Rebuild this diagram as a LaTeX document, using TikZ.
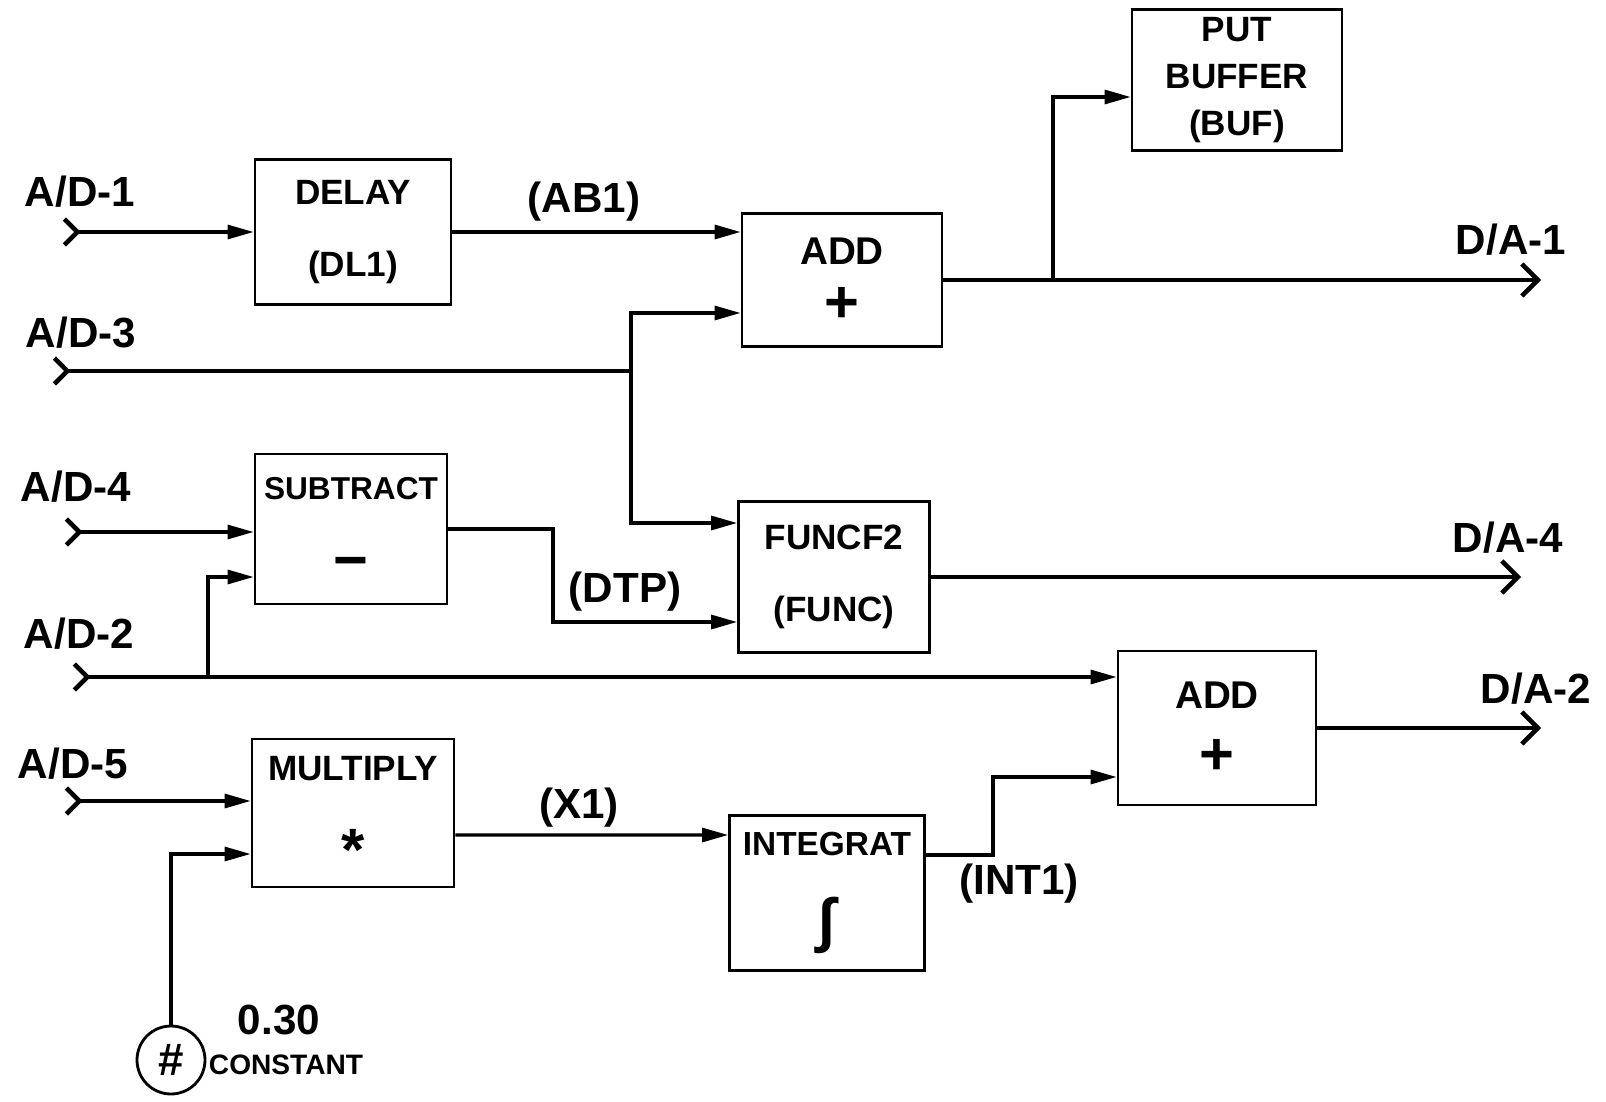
\documentclass[tikz,border=0pt]{standalone}
\usepackage{fontspec}
\setmainfont{Liberation Sans}
\usetikzlibrary{arrows.meta}
\newcommand{\opsym}[1]{{\fontsize{17}{17}\selectfont #1}}

\begin{document}
\begin{tikzpicture}[
  x=0.1mm, y=-0.1mm,
  blk/.style={draw,line width=0.8pt,font=\fontsize{10}{12}\selectfont\bfseries,align=center,inner sep=0pt},
  wire/.style={line width=0.9pt},
  lbl/.style={font=\fontsize{12}{14}\selectfont\bfseries,inner sep=0pt},
  small/.style={font=\fontsize{8}{10}\selectfont\bfseries,inner sep=0pt},
  tin/.tip={Triangle[length=2.6mm,width=1.4mm]},
  tsrc/.tip={Straight Barb[reversed,length=1.3mm,width=2.6mm,line width=1.3pt]},
  tout/.tip={Straight Barb[length=1.6mm,width=3.2mm,line width=1.3pt]},
]
\useasboundingbox (0,0) rectangle (1606,1102);

% blocks
\node[blk,minimum width=19.6mm,minimum height=14.5mm] (dly)  at (353,232)  {DELAY\\[3mm](DL1)};
\node[blk,minimum width=20mm,minimum height=13.3mm,font=\fontsize{11}{13}\selectfont\bfseries] (add1) at (842,280) {ADD\\[1.2mm]\opsym{+}};
\node[blk,minimum width=21mm,minimum height=14.1mm] (buf)  at (1237,80)  {PUT\\[0.5mm]BUFFER\\[0.5mm](BUF)};
\node[blk,minimum width=19.2mm,minimum height=15mm,font=\fontsize{9}{11}\selectfont\bfseries] (sub) at (351,529) {SUBTRACT\\[4.3mm]\opsym{−}};
\node[blk,minimum width=19.1mm,minimum height=15.1mm] (fnc) at (834,577)  {FUNCF2\\[3mm](FUNC)};
\node[blk,minimum width=19.8mm,minimum height=15.4mm,font=\fontsize{11}{13}\selectfont\bfseries] (add2) at (1217,728) {ADD\\[2mm]\opsym{+}};
\node[blk,minimum width=20.2mm,minimum height=14.8mm] (mul)  at (353,813)  {MULTIPLY\\[4.8mm]\opsym{*}};
\node[blk,minimum width=19.5mm,minimum height=15.5mm,font=\fontsize{9.5}{11.5}\selectfont\bfseries] (int) at (827,893) {INTEGRAT\\[3.7mm]\opsym{∫}};
\node[draw,circle,line width=0.8pt,minimum size=6.8mm,inner sep=0pt,font=\fontsize{13}{15}\selectfont\bfseries] (cst) at (171,1060) {\#};

% free ends and bends
\coordinate (ad1) at (62,232);
\coordinate (ad3) at (52,371);
\coordinate (ad4) at (64,532);
\coordinate (ad2) at (72,677);
\coordinate (ad5) at (64,801);
\coordinate (da1) at (1541,280);
\coordinate (da4) at (1521,577);
\coordinate (da2) at (1541,728);
\coordinate (j1) at (1053,280);
\coordinate (j2) at (208,677);
\coordinate (j3) at (631,371);
\coordinate (k1) at (553,622);
\coordinate (k2) at (993,777);

% labels
\node[lbl] (l1) at (80,192)  {A/D-1};
\node[lbl] (l3) at (81,333)  {A/D-3};
\node[lbl] (l4) at (76,487)  {A/D-4};
\node[lbl] (l2) at (79,634)  {A/D-2};
\node[lbl] (l5) at (73,764)  {A/D-5};
\node[lbl] (o1) at (1511,240) {D/A-1};
\node[lbl] (o4) at (1508,538) {D/A-4};
\node[lbl] (o2) at (1536,689) {D/A-2};
\node[lbl] (s1) at (584,202)  {(AB1)};
\node[lbl] (s2) at (625,592)  {(DTP)};
\node[lbl] (s3) at (579,808)  {(X1)};
\node[lbl] (s4) at (1019,884) {(INT1)};
\node[lbl] (cv) at (279,1020) {0.30};
\node[small] (cn) at (286,1065) {CONSTANT};

% connectors
\draw[wire,tsrc-tin] (ad1) -- (ad1 -| dly.west);
\draw[wire,-tin] (dly.east) -- (dly.east -| add1.west);
\draw[wire,tsrc-] (ad3) -- (j3);
\draw[wire,-tin] (j3) |- ([yshift=-3.3mm]add1.west);
\draw[wire,-tin] (j3) |- ([yshift=5.4mm]fnc.west);
\draw[wire,-tout] (add1.east) -- (da1);
\draw[wire,-tin] (j1) |- ([yshift=-1.7mm]buf.west);
\draw[wire,tsrc-tin] (ad4) -- (ad4 -| sub.west);
\draw[wire,tsrc-tin] (ad2) -- (ad2 -| add2.west);
\draw[wire,-tin] (j2) |- ([yshift=-4.8mm]sub.west);
\draw[wire,-tin] (sub.east) -| (k1) -- (k1 -| fnc.west);
\draw[wire,-tout] (fnc.east) -- (da4);
\draw[wire,tsrc-tin] (ad5) -- (ad5 -| mul.west);
\draw[wire,-tin] (cst.north) |- ([yshift=-4.1mm]mul.west);
\draw[wire,-tin] ([yshift=-2.2mm]mul.east) -- ([yshift=5.8mm]int.west);
\draw[wire,-tin] ([yshift=3.8mm]int.east) -| (k2) -- (k2 -| add2.west);
\draw[wire,-tout] (add2.east) -- (da2);
\end{tikzpicture}
\end{document}
